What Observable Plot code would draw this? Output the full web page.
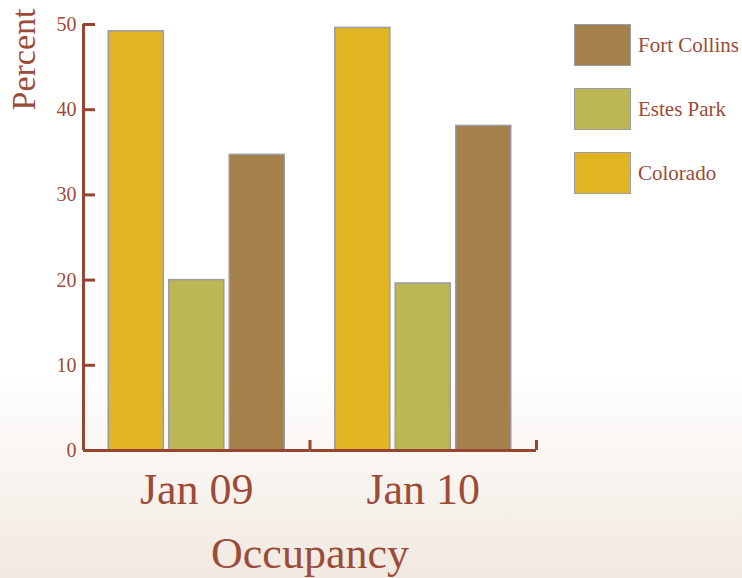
<!DOCTYPE html>
<html>
<head>
<meta charset="utf-8">
<script src="https://cdn.jsdelivr.net/npm/d3@7"></script>
<script src="https://cdn.jsdelivr.net/npm/@observablehq/plot@0.6"></script>
<style>
  html, body { margin: 0; padding: 0; }
  #wrap {
    position: relative; width: 742px; height: 578px; overflow: hidden;
    background: linear-gradient(to bottom, #ffffff 0px, #ffffff 370px, #f1e9e0 578px);
    font-family: "Liberation Serif", serif;
  }
  #chart { position: absolute; left: 0; top: 0; }
  .item { position: absolute; left: 574px; height: 42px; display: flex; align-items: center; }
  .sw { width: 55px; height: 40px; border: 1.5px solid #9a9ca6; box-sizing: content-box; }
  .lab { margin-left: 7px; font-size: 21px; color: #9c4b37; white-space: nowrap; }
</style>
</head>
<body>
<div id="wrap"><div id="chart"></div><div id="legend"></div></div>
<script>
const dates = ["Jan 09", "Jan 10"];
const cities = ["Colorado", "Estes Park", "Fort Collins"];
const colorado = [49.2, 49.6];
const estesPark = [20.0, 19.6];
const fortCollins = [34.7, 38.1];
const yTicks = [0, 10, 20, 30, 40, 50];
const colors = ["#E1B424", "#BCB655", "#A4804A"];
const legendOrder = ["Fort Collins", "Estes Park", "Colorado"];

const series = [colorado, estesPark, fortCollins];
const data = dates.flatMap((d, i) => cities.map((c, j) => ({date: d, city: c, value: series[j][i]})));

const W = 742, H = 578, mL = 83, mR = 206, mT = 24, mB = 128;
const facetW = (W - mL - mR) / dates.length;
const frameH = H - mT - mB;
const pI = 0.09, pO = 0.417;
const step = facetW / (cities.length - pI + 2 * pO);
const bw = step * (1 - pI);
const firstCenter = pO * step + bw / 2;
const lastCenter = pO * step + (cities.length - 1) * step + bw / 2;

const lineColor = "#97452f";
const textColor = "#9c4b37";

const chart = Plot.plot({
  width: W, height: H,
  marginLeft: mL, marginRight: mR, marginTop: mT, marginBottom: mB,
  style: {background: "transparent", fontFamily: "Liberation Serif, serif", color: textColor},
  fx: {domain: dates, paddingInner: 0, paddingOuter: 0, round: false},
  x: {domain: cities, paddingInner: pI, paddingOuter: pO, round: false, axis: null},
  y: {domain: [0, 50]},
  color: {domain: cities, range: colors},
  marks: [
    Plot.barY(data, {fx: "date", x: "city", y: "value", fill: "city", stroke: "#9a9ca6", strokeWidth: 1.5}),
    Plot.ruleY([0], {stroke: lineColor, strokeWidth: 3}),
    Plot.ruleX([cities[0]], {x: d => d, y1: 0, y2: 50, dx: -firstCenter, stroke: lineColor, strokeWidth: 3, facetAnchor: "left"}),
    Plot.tickY(yTicks, {y: d => d, insetRight: facetW - 12, stroke: lineColor, strokeWidth: 3, facetAnchor: "left"}),
    Plot.tickX([cities[cities.length - 1]], {x: d => d, dx: facetW - lastCenter, insetTop: frameH - 10, stroke: lineColor, strokeWidth: 3}),
    Plot.axisY({anchor: "left", ticks: yTicks, tickSize: 0, tickPadding: 7, fontSize: 20, label: null, fill: textColor}),
    Plot.axisFx({anchor: "bottom", tickSize: 0, tickPadding: 22, fontSize: 44, label: "Occupancy", labelAnchor: "center", labelOffset: 117, labelArrow: "none", fill: textColor}),
    Plot.text(["Percent"], {text: d => d, frameAnchor: "top-left", rotate: -90, textAnchor: "end", dx: -73, dy: -16, fontSize: 34, fill: textColor, facetAnchor: "left"})
  ]
});
document.getElementById("chart").appendChild(chart);

const legend = document.getElementById("legend");
legendOrder.forEach((c, i) => {
  const item = document.createElement("div");
  item.className = "item";
  item.style.top = (24 + i * 64) + "px";
  const sw = document.createElement("div");
  sw.className = "sw";
  sw.style.background = colors[cities.indexOf(c)];
  const lab = document.createElement("span");
  lab.className = "lab";
  lab.textContent = c;
  item.appendChild(sw); item.appendChild(lab);
  legend.appendChild(item);
});
</script>
</body>
</html>
